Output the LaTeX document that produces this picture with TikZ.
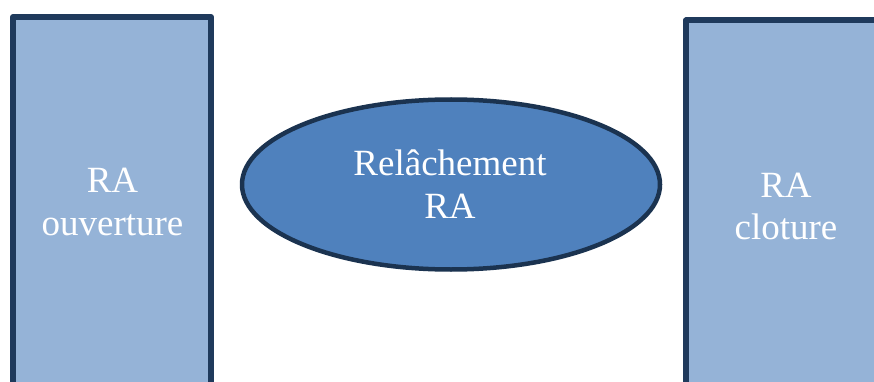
\documentclass[tikz,border=0pt]{standalone}
\usepackage{fontspec}
\setmainfont{Liberation Serif}
\usetikzlibrary{shapes.geometric}
\definecolor{boxfill}{HTML}{95B3D7}
\definecolor{boxline}{HTML}{1F3A5C}
\definecolor{ellfill}{HTML}{4F81BD}
\definecolor{ellline}{HTML}{1B3350}
\tikzset{
  sidebox/.style={draw=boxline, fill=boxfill, line width=6pt, rectangle, inner sep=0pt, line join=round},
  midell/.style={draw=ellline, fill=ellfill, line width=4.5pt, ellipse, inner sep=0pt, minimum width=418pt, minimum height=170pt},
  lbl/.style={text=white, align=center, inner sep=0pt, font=\fontsize{37}{42.5}\selectfont}
}
\begin{document}
\begin{tikzpicture}[x=1pt,y=-1pt]
\useasboundingbox (0,0) rectangle (874,382);
\clip (0,0) rectangle (874,382);
\fill[white] (0,0) rectangle (874,382);
\node[sidebox, minimum width=198pt, minimum height=403pt] (left) at (112,218.5) {};
\node[sidebox, minimum width=274pt, minimum height=399.5pt] (right) at (823,220.25) {};
\node[midell] (mid) at (451,184.5) {};
\node[lbl] (lefttext) at (112.5,202) {RA\\ouverture};
\node[lbl] (righttext) at (786,206.5) {RA\\cloture};
\node[lbl] (midtext) at (450,184.2) {Relâchement\\RA};
\end{tikzpicture}
\end{document}
